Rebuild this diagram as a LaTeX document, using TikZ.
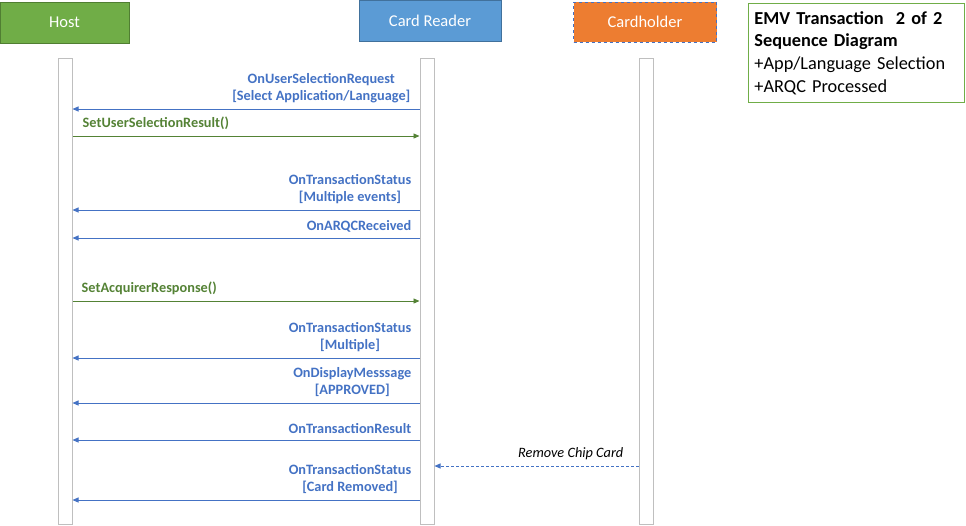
\documentclass[tikz,border=0pt]{standalone}
\usepackage{fontspec}
\setmainfont{Carlito}
\usetikzlibrary{arrows.meta,positioning}
\definecolor{HostGreen}{HTML}{70AD47}
\definecolor{HostEdge}{HTML}{507E32}
\definecolor{ReaderBlue}{HTML}{5B9BD5}
\definecolor{ReaderEdge}{HTML}{41719C}
\definecolor{HolderOrange}{HTML}{ED7D31}
\definecolor{MsgBlue}{HTML}{4472C4}
\definecolor{MsgGreen}{HTML}{548235}
\definecolor{LineGray}{HTML}{BFBFBF}
\tikzset{
  actor/.style={
    draw, line width=0.8pt, text=white, minimum height=41pt,
    inner sep=0pt, font=\fontsize{16.5}{19}\selectfont
  },
  lifeline/.style={
    draw=LineGray, line width=1pt, fill=white, minimum width=14pt,
    minimum height=466pt, inner sep=0pt, anchor=north
  },
  msglabel/.style={
    text=MsgBlue, font=\fontsize{14.3}{17}\selectfont\bfseries,
    align=center, inner sep=0pt, anchor=south east
  },
  calllabel/.style={
    text=MsgGreen, font=\fontsize{14.3}{17}\selectfont\bfseries,
    inner sep=0pt, anchor=south west
  },
  reply/.style={-{Triangle[length=6pt,width=5pt]}, draw=MsgBlue, line width=0.9pt},
  call/.style={-{Triangle[length=6pt,width=5pt]}, draw=MsgGreen, line width=0.9pt},
  cardflow/.style={-{Triangle[length=6pt,width=5pt]}, draw=MsgBlue, line width=0.9pt,
    dash pattern=on 3pt off 2pt}
}
\begin{document}
\begin{tikzpicture}[x=1pt,y=-1pt]
  \useasboundingbox (0,0) rectangle (966,525);
  \node[actor,fill=HostGreen,draw=HostEdge,minimum width=129pt] (host) at (64.5,22.5) {Host};
  \node[actor,fill=ReaderBlue,draw=ReaderEdge,minimum width=142pt] (reader) at (430,21) {Card Reader};
  \node[actor,fill=HolderOrange,draw=MsgBlue,dashed,line width=1pt,minimum width=143pt,minimum height=40pt] (holder) at (645,22) {Cardholder};
  \node[draw=HostGreen,line width=0.9pt,anchor=north west,minimum width=216pt,minimum height=99pt,
    text width=204pt,align=left,inner sep=6pt,font=\fontsize{18.3}{22.7}\selectfont] (title) at (748,3)
    {\textbf{EMV Transaction\ \ 2 of 2}\\\textbf{Sequence Diagram}\\+App/Language Selection\\+ARQC Processed};
  \node[lifeline] (hostline) at (65,58) {};
  \node[lifeline] (readerline) at (427,58) {};
  \node[lifeline] (holderline) at (646,58) {};
  \foreach \m/\y in {m1/109,m2/136,m3/210,m4/238,m5/301,m6/358,m7/403,m8/440,m9/466,m10/500}
    \coordinate (\m) at (0,\y);
  \draw[reply] (readerline.west |- m1) -- (hostline.east |- m1);
  \node[msglabel] (l1) at ([xshift=-9pt,yshift=6pt]readerline.west |- m1) {OnUserSelectionRequest\\[0pt][Select Application/Language]};
  \draw[call] (hostline.east |- m2) -- (readerline.west |- m2);
  \node[calllabel] (l2) at ([xshift=10pt,yshift=6pt]hostline.east |- m2) {SetUserSelectionResult()};
  \draw[reply] (readerline.west |- m3) -- (hostline.east |- m3);
  \node[msglabel] (l3) at ([xshift=-8pt,yshift=6pt]readerline.west |- m3) {OnTransactionStatus\\[0pt][Multiple events]};
  \draw[reply] (readerline.west |- m4) -- (hostline.east |- m4);
  \node[msglabel] (l4) at ([xshift=-8pt,yshift=6pt]readerline.west |- m4) {OnARQCReceived};
  \draw[call] (hostline.east |- m5) -- (readerline.west |- m5);
  \node[calllabel] (l5) at ([xshift=9pt,yshift=6pt]hostline.east |- m5) {SetAcquirerResponse()};
  \draw[reply] (readerline.west |- m6) -- (hostline.east |- m6);
  \node[msglabel] (l6) at ([xshift=-8pt,yshift=6pt]readerline.west |- m6) {OnTransactionStatus\\[0pt][Multiple]};
  \draw[reply] (readerline.west |- m7) -- (hostline.east |- m7);
  \node[msglabel] (l7) at ([xshift=-8pt,yshift=6pt]readerline.west |- m7) {OnDisplayMesssage\\[0pt][APPROVED]};
  \draw[reply] (readerline.west |- m8) -- (hostline.east |- m8);
  \node[msglabel] (l8) at ([xshift=-8pt,yshift=6pt]readerline.west |- m8) {OnTransactionResult};
  \draw[cardflow] (holderline.west |- m9) -- (readerline.east |- m9);
  \node[msglabel,text=black,font=\fontsize{14.3}{17}\selectfont\itshape] (l9) at ([xshift=-15pt,yshift=6pt]holderline.west |- m9) {Remove Chip Card};
  \draw[reply] (readerline.west |- m10) -- (hostline.east |- m10);
  \node[msglabel] (l10) at ([xshift=-8pt,yshift=6pt]readerline.west |- m10) {OnTransactionStatus\\[0pt][Card Removed]};
\end{tikzpicture}
\end{document}
